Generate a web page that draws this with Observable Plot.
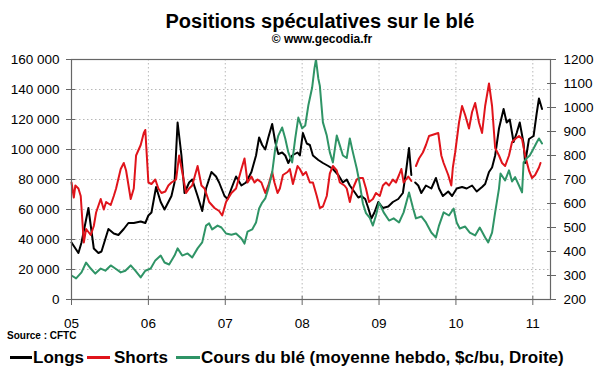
<!DOCTYPE html>
<html><head><meta charset="utf-8">
<script src="https://cdn.jsdelivr.net/npm/d3@7"></script>
<script src="https://cdn.jsdelivr.net/npm/@observablehq/plot@0.6"></script>
<style>
body{margin:0;background:#fff;font-family:"Liberation Sans",Arial,sans-serif;}
#wrap{position:relative;width:600px;height:372px;overflow:hidden;background:#fff;}
#wrap svg{position:absolute;left:0;top:0;}
.t{position:absolute;white-space:nowrap;font-weight:bold;color:#000;}
.sw{position:absolute;height:0;border-top:3px solid;width:22px;}
</style></head><body><div id="wrap"></div>
<script>
// ---- data (decimal years / values) ----
const years = [2005, 2006, 2007, 2008, 2009, 2010, 2011];
const leftTicks = [0, 20000, 40000, 60000, 80000, 100000, 120000, 140000, 160000];
const rightTicks = [200, 300, 400, 500, 600, 700, 800, 900, 1000, 1100, 1200];

// Longs (thousand contracts), null = gap
const longsT = [2005.00,2005.09,2005.13,2005.22,2005.29,2005.35,2005.39,2005.48,2005.55,2005.61,2005.68,2005.74,2005.81,2005.90,2005.96,2006.00,2006.04,2006.10,2006.16,2006.21,2006.30,2006.34,2006.38,2006.43,2006.47,2006.53,2006.57,2006.64,2006.70,2006.75,2006.82,2006.88,2006.92,2006.99,2007.03,2007.08,2007.14,2007.21,2007.27,2007.34,2007.40,2007.44,2007.48,2007.52,2007.56,2007.61,2007.65,2007.69,2007.74,2007.78,2007.82,2007.87,2007.94,2007.97,2008.01,2008.06,2008.10,2008.14,2008.21,2008.27,2008.34,2008.40,2008.47,2008.53,2008.58,2008.62,2008.69,2008.73,2008.77,2008.82,2008.86,2008.90,2008.94,2008.99,2009.05,2009.12,2009.18,2009.25,2009.31,2009.35,2009.39,2009.42,2009.45,2009.47,2009.51,2009.55,2009.61,2009.68,2009.74,2009.78,2009.83,2009.90,2009.95,2010.01,2010.08,2010.14,2010.21,2010.27,2010.34,2010.38,2010.43,2010.47,2010.51,2010.56,2010.62,2010.66,2010.70,2010.75,2010.79,2010.83,2010.88,2010.90,2010.95,2011.01,2011.05,2011.08,2011.12];
const longsV = [38,31,38,61,34,31,32,47,44,43,47,51,51,52,51,56,58,75,65,60,69,78,118,96,71,78,80,69,59,74,85,82,78,69,67,74,82,76,78,85,96,108,103,100,108,117,105,97,98,96,91,96,98,96,111,104,103,96,93,91,89,87,83,78,80,76,71,68,69,67,61,54,58,65,61,62,65,67,71,85,101,83,null,78,76,71,76,74,81,74,69,72,69,74,75,74,76,72,75,77,85,88,96,114,127,118,120,105,111,118,104,91,107,109,124,134,127];

// Shorts (thousand contracts)
const shortsT = [2005.00,2005.03,2005.05,2005.09,2005.12,2005.16,2005.19,2005.25,2005.29,2005.32,2005.38,2005.42,2005.45,2005.51,2005.55,2005.58,2005.64,2005.68,2005.71,2005.77,2005.81,2005.84,2005.90,2005.94,2005.96,2006.00,2006.04,2006.09,2006.13,2006.17,2006.22,2006.26,2006.30,2006.36,2006.40,2006.44,2006.49,2006.53,2006.57,2006.64,2006.69,2006.73,2006.79,2006.86,2006.92,2006.96,2007.01,2007.08,2007.14,2007.21,2007.25,2007.29,2007.34,2007.38,2007.42,2007.47,2007.52,2007.56,2007.61,2007.64,2007.68,2007.71,2007.75,2007.81,2007.84,2007.88,2007.94,2007.97,2008.01,2008.05,2008.10,2008.14,2008.19,2008.23,2008.27,2008.32,2008.36,2008.40,2008.45,2008.49,2008.55,2008.58,2008.62,2008.66,2008.71,2008.75,2008.79,2008.83,2008.87,2008.92,2008.96,2009.01,2009.05,2009.09,2009.13,2009.18,2009.22,2009.26,2009.29,2009.32,2009.38,2009.42,2009.45,2009.48,2009.52,2009.57,2009.61,2009.65,2009.71,2009.77,2009.81,2009.84,2009.90,2009.94,2009.96,2009.99,2010.04,2010.08,2010.12,2010.17,2010.21,2010.25,2010.30,2010.34,2010.38,2010.43,2010.47,2010.51,2010.56,2010.60,2010.64,2010.69,2010.73,2010.77,2010.82,2010.86,2010.90,2010.95,2010.99,2011.03,2011.08,2011.10];
const shortsV = [78,68,76,74,69,38,47,43,49,58,67,60,65,63,69,74,87,91,86,67,74,96,103,111,113,78,77,80,74,71,72,76,78,80,96,85,71,74,76,89,76,74,65,61,59,56,65,71,74,87,94,78,82,78,80,78,71,76,85,78,71,74,83,85,87,77,89,87,83,85,78,78,69,61,62,69,84,89,86,78,76,74,65,74,80,81,81,74,65,67,71,69,76,78,76,80,78,83,87,78,82,79,null,89,94,98,103,109,110,111,96,91,83,76,88,98,118,129,123,114,125,131,118,111,129,144,129,101,96,91,89,96,105,107,109,107,96,86,81,83,88,91];

// Cours du blé ($c/bu, right axis)
const wheatT = [2005.00,2005.06,2005.13,2005.19,2005.25,2005.31,2005.38,2005.44,2005.51,2005.57,2005.64,2005.70,2005.77,2005.83,2005.90,2005.96,2006.03,2006.09,2006.16,2006.21,2006.27,2006.34,2006.38,2006.44,2006.51,2006.57,2006.64,2006.70,2006.75,2006.79,2006.83,2006.90,2006.95,2007.01,2007.08,2007.14,2007.21,2007.25,2007.29,2007.35,2007.40,2007.44,2007.48,2007.52,2007.56,2007.61,2007.65,2007.69,2007.74,2007.78,2007.82,2007.87,2007.91,2007.95,2008.00,2008.04,2008.08,2008.13,2008.16,2008.18,2008.21,2008.23,2008.27,2008.32,2008.36,2008.40,2008.45,2008.49,2008.53,2008.58,2008.62,2008.66,2008.71,2008.75,2008.79,2008.83,2008.88,2008.92,2008.96,2009.00,2009.06,2009.13,2009.19,2009.26,2009.32,2009.39,2009.44,2009.48,2009.55,2009.61,2009.68,2009.74,2009.78,2009.84,2009.91,2009.97,2010.01,2010.05,2010.12,2010.18,2010.25,2010.31,2010.38,2010.42,2010.47,2010.51,2010.56,2010.58,2010.64,2010.69,2010.73,2010.77,2010.82,2010.86,2010.88,2010.92,2010.96,2011.01,2011.05,2011.08,2011.12];
const wheatV = [300,288,313,354,329,308,329,320,342,329,313,320,342,320,292,320,329,363,383,354,346,383,413,383,392,375,413,438,508,517,492,508,500,475,470,475,454,433,483,492,521,579,604,621,662,729,829,883,917,871,813,771,871,958,913,925,1008,1083,1163,1200,1121,1090,938,883,813,771,883,842,800,790,871,813,746,680,600,560,540,508,550,604,563,529,538,521,563,646,583,538,546,521,479,458,508,563,550,579,521,496,504,479,467,500,458,438,479,563,662,725,696,738,692,710,675,646,771,788,800,829,854,871,850];

// ---- build ----
const toLeft = v => (v - 200) * 160;          // right-axis unit -> left-axis unit
const longs = longsT.map((t, i) => ({t, v: longsV[i] == null ? null : longsV[i] * 1000}));
const shorts = shortsT.map((t, i) => ({t, v: shortsV[i] == null ? null : shortsV[i] * 1000}));
const wheat = wheatT.map((t, i) => ({t, v: toLeft(wheatV[i])}));

const fmtLeft = d => d3.format(",")(d).replace(/,/g, " ");
const axisCol = "#666";
const lw = 2;

const chart = Plot.plot({
  width: 600, height: 345,
  marginTop: 59, marginBottom: 46, marginLeft: 71, marginRight: 50,
  style: {fontFamily: "'Liberation Sans', Arial, sans-serif", fontSize: "13px", background: "white", color: "#000"},
  x: {domain: [2005, 2011.23]},
  y: {domain: [0, 160000]},
  marks: [
    Plot.gridY(leftTicks, {stroke: "#b8b8b8", strokeOpacity: 1, strokeDasharray: "1.5,2.5"}),
    Plot.gridX(years, {stroke: "#b8b8b8", strokeOpacity: 1, strokeDasharray: "1.5,2.5"}),
    Plot.line(longs, {x: "t", y: "v", stroke: "#000", strokeWidth: lw}),
    Plot.line(shorts, {x: "t", y: "v", stroke: "#e0141b", strokeWidth: lw}),
    Plot.line(wheat, {x: "t", y: "v", stroke: "#2f9466", strokeWidth: lw, clip: true}),
    Plot.frame({stroke: axisCol, strokeWidth: 1.2}),
    // left axis
    Plot.axisY({ticks: leftTicks, tickSize: 9, dx: 4, tickFormat: () => "", stroke: axisCol, label: null}),
    Plot.axisY({ticks: leftTicks, tickSize: 0, tickPadding: 12, tickFormat: fmtLeft, label: null, fill: "#000", fontSize: 13.5}),
    // right axis
    Plot.axisY({anchor: "right", ticks: rightTicks.map(toLeft), tickSize: 9, dx: -4, tickFormat: () => "", stroke: axisCol, label: null}),
    Plot.axisY({anchor: "right", ticks: rightTicks.map(toLeft), tickSize: 0, tickPadding: 13, tickFormat: d => String(Math.round(d / 160 + 200)), label: null, fill: "#000", fontSize: 13.5}),
    // bottom axis
    Plot.axisX({ticks: years, tickSize: 9, dy: -3, tickFormat: () => "", stroke: axisCol, label: null}),
    Plot.axisX({ticks: years, tickSize: 0, tickPadding: 19, tickFormat: d => String(d).slice(2), label: null, fill: "#000", fontSize: 13.5})
  ]
});

const wrap = document.getElementById("wrap");
wrap.appendChild(chart);

function addText(txt, left, top, size, lh, extra) {
  const d = document.createElement("div");
  d.className = "t";
  d.textContent = txt;
  d.style.left = left + "px";
  d.style.top = top + "px";
  d.style.fontSize = size + "px";
  d.style.lineHeight = lh + "px";
  if (extra) Object.assign(d.style, extra);
  wrap.appendChild(d);
  return d;
}
function addSwatch(color, left, top, w) {
  const s = document.createElement("div");
  s.className = "sw";
  s.style.borderTopColor = color;
  s.style.left = left + "px";
  s.style.top = top + "px";
  s.style.width = w + "px";
  wrap.appendChild(s);
}
addText("Positions spéculatives sur le blé", 0, 12, 20, 18, {width: "640px", textAlign: "center"});
addText("© www.gecodia.fr", 0, 34, 12, 10, {width: "644px", textAlign: "center"});
addText("Source : CFTC", 7, 331, 10, 10);
addSwatch("#000", 10, 356, 22);
addText("Longs", 33, 349, 17, 17);
addSwatch("#e0141b", 87, 356, 23);
addText("Shorts", 114, 349, 17, 17);
addSwatch("#2f9466", 176, 356, 24);
addText("Cours du blé (moyenne hebdo, $c/bu, Droite)", 201, 349, 17, 17);
</script></body></html>
